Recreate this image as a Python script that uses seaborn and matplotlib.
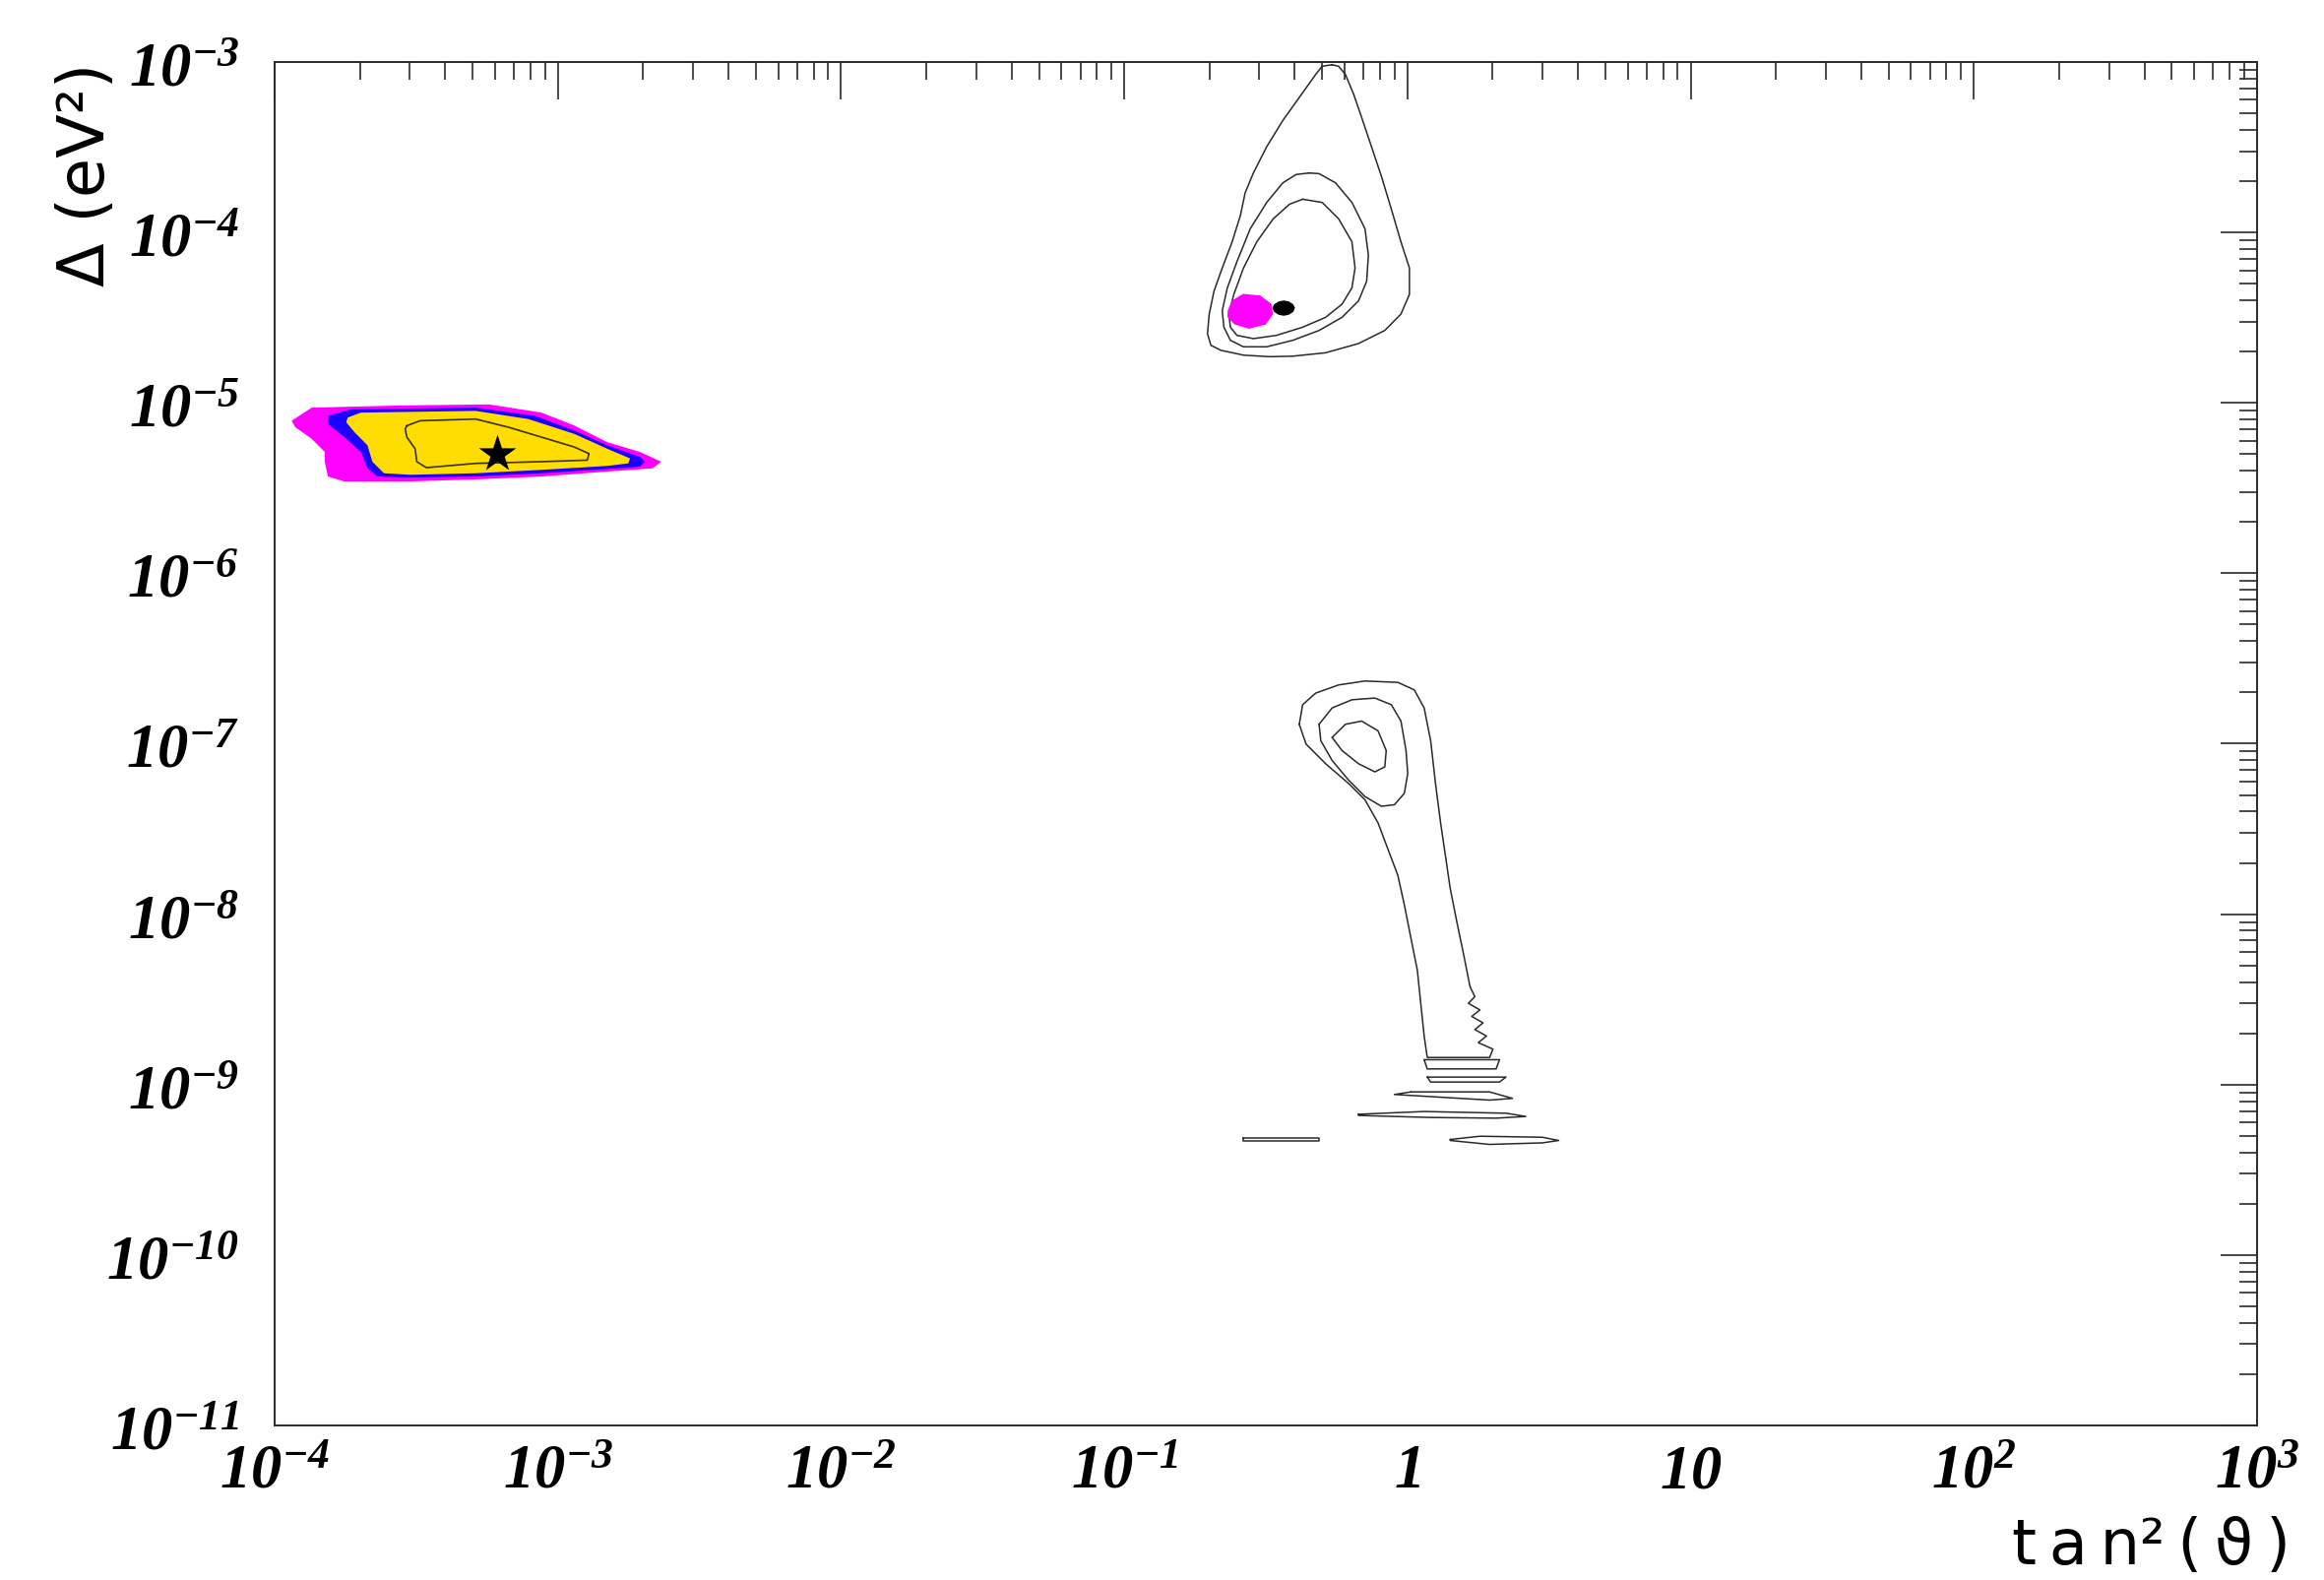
import numpy as np
import matplotlib
matplotlib.use("Agg")
import matplotlib.pyplot as plt
from matplotlib.ticker import FixedLocator, LogLocator, NullFormatter
import seaborn as sns

# ---- allowed regions, stored as (log10 tan^2, log10 dm^2) vertices ----
# small mixing angle solution: three nested filled regions + inner contour
sma_outer_x = [-3.940, -3.869, -3.550, -3.243, -3.058, -2.943, -2.826, -2.710, -2.635,
               -2.665, -2.826, -3.058, -3.291, -3.521, -3.753, -3.812, -3.823, -3.823,
               -3.869, -3.927]
sma_outer_y = [-5.105, -5.028, -5.015, -5.009, -5.057, -5.132, -5.230, -5.288, -5.345,
               -5.384, -5.403, -5.432, -5.449, -5.461, -5.461, -5.432, -5.345, -5.288,
               -5.211, -5.143]
sma_mid_x = [-3.811, -3.730, -3.290, -3.081, -2.942, -2.826, -2.710, -2.693, -2.710,
             -2.826, -3.058, -3.290, -3.521, -3.637, -3.672, -3.695, -3.753, -3.811]
sma_mid_y = [-5.076, -5.038, -5.028, -5.076, -5.162, -5.249, -5.317, -5.345, -5.374,
             -5.388, -5.413, -5.432, -5.438, -5.432, -5.384, -5.288, -5.201, -5.124]
sma_inner_x = [-3.742, -3.695, -3.290, -3.104, -2.942, -2.826, -2.745, -2.751, -2.826,
               -3.058, -3.290, -3.521, -3.614, -3.655, -3.672, -3.718, -3.747]
sma_inner_y = [-5.086, -5.057, -5.047, -5.095, -5.182, -5.269, -5.326, -5.355, -5.370,
               -5.393, -5.413, -5.422, -5.413, -5.345, -5.249, -5.172, -5.114]
sma_core_x = [-3.533, -3.487, -3.290, -3.174, -3.058, -2.942, -2.890, -2.896, -3.058,
              -3.290, -3.464, -3.498, -3.504, -3.533, -3.539]
sma_core_y = [-5.134, -5.105, -5.095, -5.143, -5.201, -5.259, -5.298, -5.336, -5.345,
              -5.355, -5.380, -5.345, -5.269, -5.201, -5.153]
best_fit_x = [-3.214]
best_fit_y = [-5.298]

# large mixing angle solution: three contour lines and two small islands
lma_outer_x = [-0.266, -0.243, -0.219, -0.190, -0.162, -0.127, -0.092, -0.057, -0.023,
               0.007, 0.007, -0.023, -0.080, -0.173, -0.289, -0.405, -0.486, -0.579,
               -0.660, -0.694, -0.706, -0.700, -0.683, -0.654, -0.619, -0.590, -0.573,
               -0.544, -0.497, -0.440, -0.382, -0.324, -0.301]
lma_outer_y = [-3.016, -3.025, -3.073, -3.189, -3.324, -3.497, -3.670, -3.863, -4.055,
               -4.209, -4.363, -4.479, -4.575, -4.652, -4.706, -4.726, -4.729, -4.720,
               -4.691, -4.662, -4.594, -4.479, -4.344, -4.209, -4.055, -3.901, -3.767,
               -3.651, -3.497, -3.343, -3.208, -3.073, -3.025]
lma_mid_x = [-0.347, -0.312, -0.254, -0.196, -0.150, -0.138, -0.144, -0.173, -0.231,
             -0.312, -0.405, -0.497, -0.579, -0.625, -0.648, -0.654, -0.636, -0.602,
             -0.555, -0.497, -0.440, -0.393]
lma_mid_y = [-3.651, -3.655, -3.709, -3.824, -3.978, -4.132, -4.287, -4.402, -4.498,
             -4.575, -4.633, -4.671, -4.671, -4.633, -4.556, -4.460, -4.325, -4.171,
             -3.978, -3.824, -3.709, -3.660]
lma_inner_x = [-0.370, -0.301, -0.243, -0.196, -0.185, -0.196, -0.231, -0.289, -0.370,
               -0.463, -0.544, -0.602, -0.625, -0.631, -0.613, -0.579, -0.532, -0.474,
               -0.416]
lma_inner_y = [-3.805, -3.824, -3.920, -4.055, -4.209, -4.325, -4.421, -4.498, -4.556,
               -4.604, -4.623, -4.604, -4.556, -4.479, -4.363, -4.209, -4.055, -3.920,
               -3.834]
lma_dark_x = [-0.477, -0.471, -0.455, -0.437, -0.419, -0.403, -0.397, -0.403, -0.419,
              -0.437, -0.455, -0.471]
lma_dark_y = [-4.444, -4.422, -4.405, -4.399, -4.405, -4.422, -4.444, -4.466, -4.483,
              -4.489, -4.483, -4.466]
lma_pink_x = [-0.635, -0.620, -0.580, -0.520, -0.480, -0.475, -0.500, -0.560, -0.610, -0.635]
lma_pink_y = [-4.460, -4.400, -4.360, -4.370, -4.420, -4.480, -4.540, -4.565, -4.540, -4.500]

# LOW / vacuum solution: teardrop with a long ragged stem, plus thin islands
low_outer_x = [-0.382, -0.370, -0.324, -0.243, -0.150, -0.034, 0.024, 0.059, 0.082,
               0.099, 0.117, 0.134, 0.151, 0.174, 0.198, 0.221, 0.238, 0.215, 0.256,
               0.227, 0.267, 0.238, 0.279, 0.250, 0.302, 0.290, 0.070, 0.059, 0.047,
               0.035, 0.012, -0.011, -0.034, -0.069, -0.104, -0.150, -0.208, -0.289,
               -0.358]
low_outer_y = [-6.886, -6.771, -6.703, -6.655, -6.632, -6.640, -6.684, -6.790, -6.982,
               -7.233, -7.464, -7.656, -7.849, -8.042, -8.234, -8.426, -8.484, -8.523,
               -8.562, -8.600, -8.638, -8.677, -8.715, -8.754, -8.792, -8.841, -8.841,
               -8.715, -8.523, -8.330, -8.138, -7.945, -7.772, -7.618, -7.464, -7.329,
               -7.233, -7.117, -7.002]
low_mid_x = [-0.312, -0.266, -0.196, -0.115, -0.057, -0.023, -0.005, 0.001, -0.011,
             -0.046, -0.092, -0.150, -0.208, -0.266, -0.306]
low_mid_y = [-6.886, -6.790, -6.742, -6.732, -6.771, -6.867, -7.040, -7.175, -7.291,
             -7.358, -7.367, -7.310, -7.213, -7.098, -6.982]
low_inner_x = [-0.266, -0.219, -0.162, -0.104, -0.075, -0.080, -0.115, -0.173, -0.231]
low_inner_y = [-6.963, -6.886, -6.867, -6.924, -7.040, -7.136, -7.165, -7.117, -7.040]
island_a_x = [0.059, 0.325, 0.313, 0.070]
island_a_y = [-8.854, -8.854, -8.908, -8.908]
island_b_x = [0.070, 0.348, 0.325, 0.082]
island_b_y = [-8.956, -8.956, -8.985, -8.985]
island_c_x = [0.012, 0.290, 0.371, 0.290, -0.046]
island_c_y = [-9.043, -9.043, -9.081, -9.091, -9.058]
island_d_x = [-0.173, 0.059, 0.348, 0.418, 0.313, 0.082, -0.173]
island_d_y = [-9.174, -9.158, -9.168, -9.187, -9.197, -9.193, -9.181]
island_e_x = [-0.579, -0.312, -0.312, -0.579]
island_e_y = [-9.316, -9.316, -9.328, -9.328]
island_f_x = [0.151, 0.256, 0.476, 0.534, 0.476, 0.290, 0.151]
island_f_y = [-9.322, -9.303, -9.309, -9.328, -9.342, -9.351, -9.328]

# ---- axis ticks ----
x_decades = [-4, -3, -2, -1, 0, 1, 2, 3]
x_tick_labels = [r"$10^{-4}$", r"$10^{-3}$", r"$10^{-2}$", r"$10^{-1}$", r"$1$",
                 r"$10$", r"$10^{2}$", r"$10^{3}$"]
y_decades = [-11, -10, -9, -8, -7, -6, -5, -4, -3]
y_tick_labels = [r"$10^{-11}$", r"$10^{-10}$", r"$10^{-9}$", r"$10^{-8}$", r"$10^{-7}$",
                 r"$10^{-6}$", r"$10^{-5}$", r"$10^{-4}$", r"$10^{-3}$"]

# ---- style ----
sns.set_theme(style="white")
plt.rcParams["font.family"] = ["DejaVu Sans"]
plt.rcParams["mathtext.fontset"] = "custom"
plt.rcParams["mathtext.rm"] = "Liberation Serif:italic:bold"
plt.rcParams["mathtext.it"] = "Liberation Serif:italic:bold"
plt.rcParams["mathtext.bf"] = "Liberation Serif:italic:bold"

INK = "#2a2a2a"
fig = plt.figure(figsize=(23.61, 16.06), dpi=100)
ax = fig.add_axes([0.11817, 0.09776, 0.85303, 0.86239])
ax.set_xscale("log")
ax.set_yscale("log")


def poly(xs, ys):
    return 10.0 ** np.asarray(xs), 10.0 ** np.asarray(ys)


def outline(xs, ys, lw=1.1, color=INK):
    px, py = poly(list(xs) + [xs[0]], list(ys) + [ys[0]])
    sns.lineplot(x=px, y=py, sort=False, estimator=None, color=color,
                 linewidth=lw, ax=ax)


# small mixing angle: filled nested regions
for xs, ys, col in [(sma_outer_x, sma_outer_y, "#ff00ff"),
                    (sma_mid_x, sma_mid_y, "#1a00ff"),
                    (sma_inner_x, sma_inner_y, "#ffdd00")]:
    ax.fill(*poly(xs, ys), color=col, lw=0, zorder=2)
outline(sma_core_x, sma_core_y, lw=1.2, color="#3a3200")
sns.scatterplot(x=10.0 ** np.array(best_fit_x), y=10.0 ** np.array(best_fit_y),
                marker="*", s=820, color="black", edgecolor="black", linewidth=0,
                ax=ax, zorder=5)

# large mixing angle
for xs, ys in [(lma_outer_x, lma_outer_y), (lma_mid_x, lma_mid_y),
               (lma_inner_x, lma_inner_y)]:
    outline(xs, ys)
ax.fill(*poly(lma_dark_x, lma_dark_y), color="black", lw=0, zorder=3)
ax.fill(*poly(lma_pink_x, lma_pink_y), color="#ff00ff", lw=0, zorder=4)

# LOW / vacuum
for xs, ys in [(low_outer_x, low_outer_y), (low_mid_x, low_mid_y),
               (low_inner_x, low_inner_y), (island_a_x, island_a_y),
               (island_b_x, island_b_y), (island_c_x, island_c_y),
               (island_d_x, island_d_y), (island_e_x, island_e_y),
               (island_f_x, island_f_y)]:
    outline(xs, ys)

# ---- axes ----
ax.set_xlim(1e-4, 1e3)
ax.set_ylim(1e-11, 1e-3)
ax.xaxis.set_major_locator(FixedLocator(10.0 ** np.array(x_decades)))
ax.yaxis.set_major_locator(FixedLocator(10.0 ** np.array(y_decades)))
ax.set_xticklabels(x_tick_labels)
ax.set_yticklabels(y_tick_labels)
for axis in (ax.xaxis, ax.yaxis):
    axis.set_minor_locator(LogLocator(base=10, subs=np.arange(2, 10), numticks=50))
    axis.set_minor_formatter(NullFormatter())

ax.tick_params(which="both", direction="in", top=True, right=True, color=INK,
               width=1.2, labelcolor="black", labelsize=45)
ax.tick_params(which="major", length=27)
ax.tick_params(which="minor", length=13)
ax.tick_params(axis="x", which="major", pad=45)
ax.tick_params(axis="y", which="major", pad=26)
for lab in ax.get_xticklabels():
    lab.set_verticalalignment("baseline")
for sp in ax.spines.values():
    sp.set_color(INK)
    sp.set_linewidth(1.4)

ax.set_xlabel("t\u2009a\u2009n²\u2009(\u2009ϑ\u2009)", loc="right", fontsize=46,
              color="black")
ax.xaxis.set_label_coords(1.017, -0.066)
ax.set_ylabel("Δ (eV²)", loc="top", fontsize=47, color="black")
ax.yaxis.set_label_coords(-0.079, 1.0)
ax.grid(False)

fig.savefig("out.png", dpi=100, facecolor="white")
